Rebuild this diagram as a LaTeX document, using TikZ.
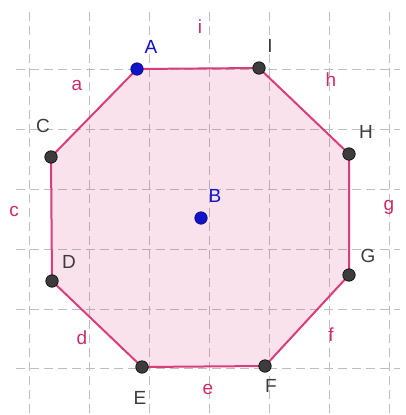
\documentclass[tikz,border=0pt]{standalone}
\usepackage{fontspec}
\setmainfont{Liberation Sans}
\usepackage{tikz}
\usetikzlibrary{positioning}
\definecolor{ggedge}{RGB}{216,62,122}
\definecolor{gglab}{RGB}{206,42,104}
\definecolor{ggpt}{RGB}{60,60,60}
\definecolor{ggblue}{RGB}{18,18,200}
\definecolor{gggrid}{RGB}{190,190,190}
\tikzset{
  gggridline/.style={draw=gggrid, line width=0.9pt, dash pattern=on 9pt off 5pt},
  ggside/.style={draw=ggedge, line width=2pt, fill=ggedge, fill opacity=0.15, line join=round},
  ggvertex/.style={circle, draw=black, line width=0.6pt, fill=ggpt, inner sep=0pt, minimum size=12.5pt},
  ggfree/.style={ggvertex, fill=ggblue, draw=ggblue!60!black},
  ggname/.style={font=\fontsize{19}{21}\selectfont, text=ggpt, inner sep=0pt},
  ggfreename/.style={ggname, text=ggblue},
  ggsidename/.style={ggname, text=gglab}
}
\begin{document}
\begin{tikzpicture}[x=1pt,y=-1pt]
  \useasboundingbox (0,0) rectangle (405,415);
  \fill[white] (0,0) rectangle (405,415);

  % grid
  \foreach \gx in {29,89,149,209,269,329,389}
    \draw[gggridline] (\gx,12) -- (\gx,413);
  \foreach \gy in {69,129,189,249,309,368}
    \draw[gggridline] (16,\gy) -- (400,\gy);

  % vertices
  \coordinate (pA) at (137,69);
  \coordinate (pI) at (259,68);
  \coordinate (pH) at (349,154);
  \coordinate (pG) at (349,275);
  \coordinate (pF) at (265,366);
  \coordinate (pE) at (142,367);
  \coordinate (pD) at (52,281);
  \coordinate (pC) at (51,157);

  \draw[ggside] (pA) -- (pI) -- (pH) -- (pG) -- (pF) -- (pE) -- (pD) -- (pC) -- cycle;

  \node[ggfree] (A) at (pA) {};
  \node[ggvertex] (I) at (pI) {};
  \node[ggvertex] (H) at (pH) {};
  \node[ggvertex] (G) at (pG) {};
  \node[ggvertex] (F) at (pF) {};
  \node[ggvertex] (E) at (pE) {};
  \node[ggvertex] (D) at (pD) {};
  \node[ggvertex] (C) at (pC) {};
  \node[ggfree] (B) at (201,218) {};

  % point names
  \node[ggfreename] (lA) at (151,47) {A};
  \node[ggname] (lI) at (270,46) {I};
  \node[ggname] (lH) at (366,132) {H};
  \node[ggname] (lG) at (368,256) {G};
  \node[ggname] (lF) at (271,386) {F};
  \node[ggname] (lE) at (140,398) {E};
  \node[ggname] (lD) at (69,262) {D};
  \node[ggname] (lC) at (43,126) {C};
  \node[ggfreename] (lB) at (215,196) {B};

  % side names
  \node[ggsidename] (si) at (200,27) {i};
  \node[ggsidename] (sh) at (331,80) {h};
  \node[ggsidename] (sg) at (389,207) {g};
  \node[ggsidename] (sf) at (331,335) {f};
  \node[ggsidename] (se) at (208,389) {e};
  \node[ggsidename] (sd) at (82,338) {d};
  \node[ggsidename] (sc) at (14,211) {c};
  \node[ggsidename] (sa) at (77,85) {a};
\end{tikzpicture}
\end{document}
